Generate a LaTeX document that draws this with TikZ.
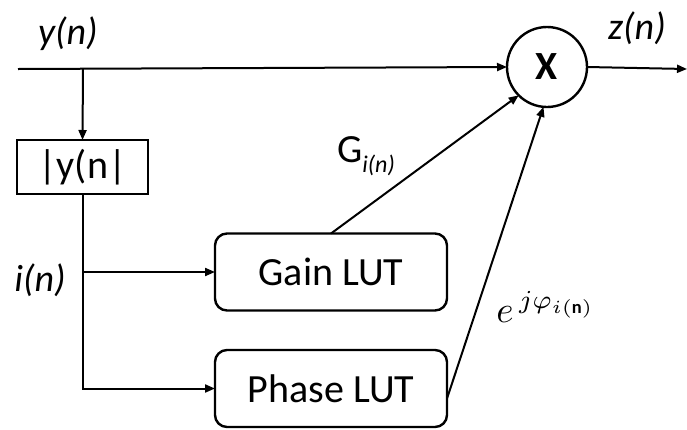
\documentclass[tikz,border=0pt]{standalone}
\usepackage{graphicx}
\usepackage{fontspec}
\setmainfont{Carlito}
\usetikzlibrary{arrows.meta}
\begin{document}
\begin{tikzpicture}[x=1pt,y=-1pt,
  every node/.style={inner sep=0pt,outer sep=0pt},
  lbl/.style={font=\fontsize{38}{44}\selectfont\itshape},
  boxtxt/.style={font=\fontsize{40}{46}\selectfont},
  lut/.style={draw,line width=2.4pt,rounded corners=12pt,minimum width=232pt,minimum height=77pt,font=\fontsize{40}{46}\selectfont},
  wire/.style={line width=2pt},
  arr/.style={wire,-{Triangle[length=10pt,width=8pt]}}]
\useasboundingbox (0,0) rectangle (687,429);
% nodes
\node[draw,line width=2pt,minimum width=131pt,minimum height=54pt,boxtxt] (abs) at (82.5,167) {|y(n|};
\node[lut] (gain) at (331,272) {Gain LUT};
\node[lut] (phase) at (331,388.5) {Phase LUT};
\node[draw,circle,line width=2.4pt,minimum size=80pt,font=\fontsize{40}{46}\selectfont\bfseries] (mult) at (547,67) {X};
% coordinates
\coordinate (in) at (18,69);
\coordinate (tap) at (83,69);
\coordinate (out) at (687,69);
% labels
\node[lbl] (ylab) at (68,34) {y(n)};
\node[lbl] (zlab) at (637,28) {z(n)};
\node[lbl] (ilab) at (40,280) {i(n)};
\node (glab) at (366,156) {\fontsize{40}{46}\selectfont G\raisebox{-10pt}{\fontsize{24}{28}\selectfont\itshape i(n)}};
\node (plab) at (546,307) {\scalebox{3.7}{$e^{\,j\varphi_{i(\mathbf{n})}}$}};
% connectors
\draw[arr] (in) -- (mult.west);
\draw[arr] (mult.east) -- (out);
\draw[arr] (tap) -- (abs.north);
\draw[arr] (abs.south) |- (phase.west);
\draw[arr] (abs.south |- gain.west) -- (gain.west);
\draw[arr] (gain.north) -- (mult.225);
\draw[arr] ([yshift=-10pt]phase.east) -- (mult.265);
\end{tikzpicture}
\end{document}
